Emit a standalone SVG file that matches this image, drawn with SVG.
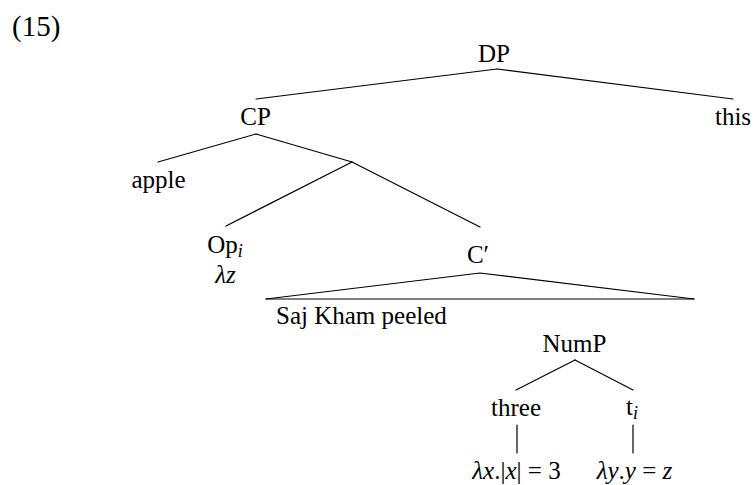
<svg xmlns="http://www.w3.org/2000/svg" width="753" height="485" viewBox="0 0 753 485">
  <style>
    text { font-family: "Liberation Serif", Tinos, "DejaVu Serif", serif; font-size: 25px; fill: #000; }
    .mid { text-anchor: middle; }
    .it { font-style: italic; }
    .sub { font-style: italic; font-size: 18px; }
    .edge { stroke: #000; stroke-width: 1.2; fill: none; stroke-linecap: round; }
  </style>
  <rect width="753" height="485" fill="#fff"/>

  <!-- example number -->
  <text id="exnum" x="12" y="36" style="font-size:29px">(15)</text>

  <!-- tree branches -->
  <g id="edges">
    <line class="edge" x1="497" y1="69" x2="256" y2="99"/>
    <line class="edge" x1="497" y1="69" x2="733" y2="99"/>
    <line class="edge" x1="256" y1="134" x2="158" y2="162"/>
    <line class="edge" x1="256" y1="134" x2="352" y2="162"/>
    <line class="edge" x1="352" y1="162" x2="226" y2="226"/>
    <line class="edge" x1="352" y1="162" x2="480" y2="227"/>
    <polyline class="edge" points="266,299 480,273 694,299"/>
    <line class="edge" x1="266" y1="299" x2="694" y2="299"/>
    <line class="edge" x1="575" y1="360" x2="516" y2="390"/>
    <line class="edge" x1="575" y1="360" x2="633" y2="390"/>
    <line class="edge" x1="517" y1="425" x2="517" y2="453"/>
    <line class="edge" x1="633" y1="425" x2="633" y2="453"/>
  </g>

  <g id="dp"><text class="mid" x="494" y="62">DP</text></g>
  <g id="cp"><text class="mid" x="255.5" y="125">CP</text></g>
  <g id="this"><text class="mid" x="733" y="125">this</text></g>
  <g id="apple"><text class="mid" x="158.5" y="188">apple</text></g>
  <g id="op">
    <text class="mid" x="225" y="253">Op<tspan class="sub" dy="4">i</tspan></text>
    <text class="mid it" x="225.5" y="283">λz</text>
  </g>
  <g id="cbar"><text class="mid" x="478" y="263">C′</text></g>
  <g id="tp"><text x="276" y="324">Saj Kham peeled</text></g>
  <g id="nump"><text class="mid" x="574.5" y="352">NumP</text></g>
  <g id="three"><text class="mid" x="516" y="416">three</text></g>
  <g id="trace"><text class="mid" x="632" y="415">t<tspan class="sub" dy="4">i</tspan></text></g>
  <g id="three-sem">
    <text class="mid" x="516.5" y="479"><tspan class="it">λx</tspan>.|<tspan class="it">x</tspan>| = 3</text>
  </g>
  <g id="trace-sem">
    <text class="mid" x="634.5" y="479"><tspan class="it">λy</tspan>.<tspan class="it">y</tspan> = <tspan class="it">z</tspan></text>
  </g>
</svg>
